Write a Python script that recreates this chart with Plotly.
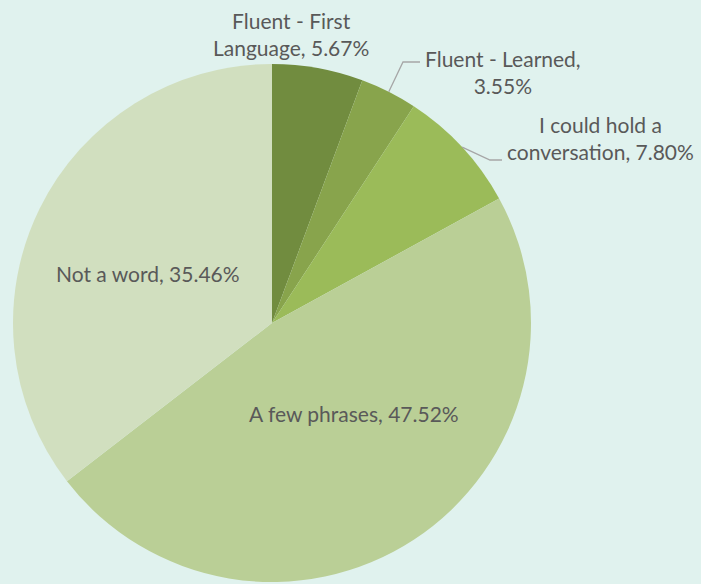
import math
import plotly.graph_objects as go

labels = ["Fluent - First Language", "Fluent - Learned", "I could hold a conversation",
          "A few phrases", "Not a word"]
values = [5.67, 3.55, 7.80, 47.52, 35.46]
colors = ["#718c3f", "#88a44c", "#9bbb59", "#bacf96", "#d1dfbf"]

W, H = 701, 584
cx, cy, R = 272, 323, 259

fig = go.Figure(go.Pie(
    labels=labels, values=values, sort=False, direction="clockwise", rotation=0,
    marker=dict(colors=colors, line=dict(width=0)),
    textinfo="none", hoverinfo="label+percent", showlegend=False,
    domain=dict(x=[(cx - R) / W, (cx + R) / W], y=[1 - (cy + R) / H, 1 - (cy - R) / H]),
))

font = dict(family="Lato, Carlito, Noto Sans, sans-serif", size=21, color="#595959")

def px(x, y):
    return x / W, 1 - y / H

label_text = [
    ("Fluent - First<br>Language, 5.67%", 291, 34),
    ("Fluent - Learned,<br>3.55%", 503, 72),
    ("I could hold a<br>conversation, 7.80%", 600, 138),
    ("A few phrases, 47.52%", 354, 414),
    ("Not a word, 35.46%", 148, 273),
]
for t, x, y in label_text:
    ax, ay = px(x, y)
    fig.add_annotation(text=t, x=ax, y=ay, xref="paper", yref="paper", showarrow=False,
                       font=font, align="center", xanchor="center", yanchor="middle")

# leader lines for slices 1 and 2 (from slice mid-angle edge)
total = sum(values)
cum = [sum(values[:i]) for i in range(len(values))]
ends = {1: (403, 62, 420), 2: (490, 160, 502)}
for i, (bx, by, ex) in ends.items():
    ang = (cum[i] + values[i] / 2) / total * 2 * math.pi
    sx, sy = cx + R * math.sin(ang), cy - R * math.cos(ang)
    x0, y0 = px(sx, sy)
    x1, y1 = px(bx, by)
    x2, _ = px(ex, by)
    fig.add_shape(type="path", xref="paper", yref="paper",
                  path=f"M {x0} {y0} L {x1} {y1} L {x2} {y1}",
                  line=dict(color="#a6a6a6", width=1.3))

fig.update_layout(width=W, height=H, margin=dict(l=0, r=0, t=0, b=0),
                  paper_bgcolor="#e0f2ee", plot_bgcolor="#e0f2ee")
fig.write_html("out.html", config={"displayModeBar": False},
               post_script="document.body.style.margin='0';document.body.style.background='#e0f2ee';")
